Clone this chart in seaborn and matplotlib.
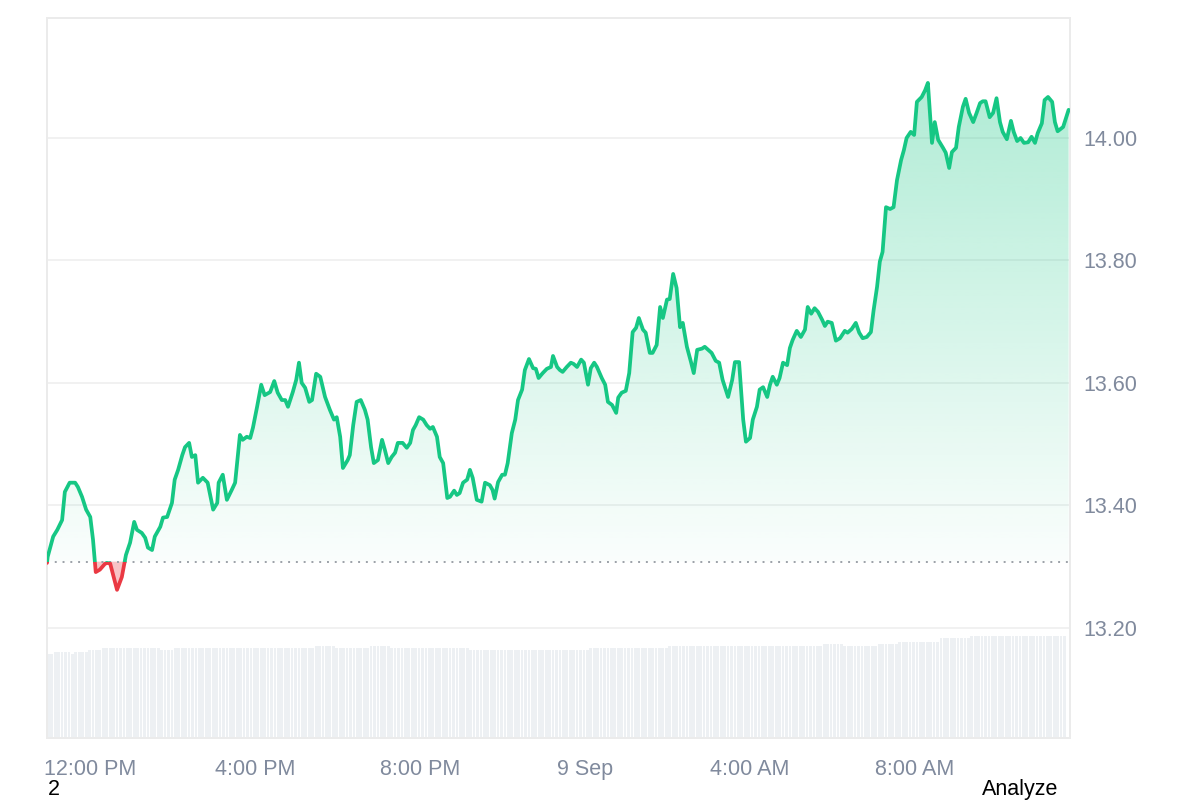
import numpy as np
import pandas as pd
import matplotlib
matplotlib.use('Agg')
import matplotlib.pyplot as plt
import matplotlib.dates as mdates
from matplotlib.colors import to_rgb
from matplotlib.patches import Rectangle
from matplotlib.path import Path
from matplotlib.ticker import FormatStrFormatter
from matplotlib.transforms import blended_transform_factory
import seaborn as sns

# price series (minutes after start, price)
start = pd.Timestamp('2024-09-08 10:57')
minutes = [0, 1, 9, 15, 22, 26, 33, 41, 45, 51, 57, 63, 67, 71, 77, 84, 87, 92, 102, 109,
           115, 121, 127, 131, 138, 143, 147, 153, 157, 165, 169, 175, 182, 186, 191, 197, 201, 207, 211, 216,
           220, 227, 234, 242, 248, 250, 256, 262, 269, 274, 281, 285, 291, 296, 300, 306, 312, 317, 325, 331,
           336, 342, 347, 351, 358, 363, 367, 371, 376, 382, 386, 392, 398, 405, 412, 418, 422, 427, 431, 438,
           441, 446, 451, 457, 463, 467, 472, 476, 482, 488, 492, 497, 502, 507, 511, 518, 524, 529, 533, 537,
           542, 548, 553, 558, 562, 568, 572, 577, 583, 587, 593, 597, 601, 606, 612, 616, 620, 626, 633, 638,
           645, 649, 652, 657, 663, 667, 671, 677, 682, 686, 692, 696, 702, 708, 712, 716, 722, 728, 734, 737,
           743, 747, 751, 757, 763, 767, 772, 778, 782, 788, 792, 797, 801, 808, 813, 817, 823, 829, 832, 837,
           843, 848, 853, 858, 862, 868, 872, 878, 882, 888, 893, 897, 903, 907, 912, 917, 922, 926, 932, 938,
           942, 947, 954, 958, 963, 968, 974, 979, 984, 992, 998, 1002, 1008, 1014, 1018, 1024, 1028, 1034, 1038, 1043,
           1049, 1053, 1057, 1063, 1067, 1072, 1078, 1082, 1086, 1092, 1098, 1104, 1108, 1113, 1118, 1123, 1129, 1133, 1137, 1143,
           1149, 1155, 1162, 1166, 1172, 1178, 1183, 1188, 1194, 1200, 1204, 1209, 1213, 1217, 1222, 1228, 1233, 1238, 1244, 1248,
           1252, 1258, 1263, 1267, 1274, 1279, 1283, 1289, 1293, 1298, 1305, 1309, 1314, 1318, 1324, 1328, 1334, 1338, 1343, 1349,
           1354, 1359, 1363, 1367, 1373, 1378, 1383, 1388, 1392, 1398, 1404, 1408, 1413, 1418, 1423, 1429, 1434, 1439, 1443, 1449,
           1453, 1458, 1464, 1468, 1472, 1480, 1488]
prices = [13.306, 13.316, 13.349, 13.360, 13.376, 13.422, 13.437, 13.437, 13.430, 13.414, 13.393, 13.381, 13.344, 13.291, 13.295, 13.304, 13.306, 13.305, 13.262, 13.283,
          13.319, 13.339, 13.373, 13.360, 13.355, 13.347, 13.331, 13.327, 13.349, 13.365, 13.380, 13.381, 13.404, 13.442, 13.458, 13.482, 13.495, 13.502, 13.479, 13.482,
          13.437, 13.445, 13.437, 13.393, 13.404, 13.437, 13.450, 13.409, 13.425, 13.437, 13.515, 13.507, 13.512, 13.510, 13.527, 13.561, 13.597, 13.580, 13.585, 13.603,
          13.584, 13.572, 13.572, 13.561, 13.585, 13.605, 13.633, 13.600, 13.592, 13.569, 13.572, 13.615, 13.610, 13.577, 13.556, 13.540, 13.544, 13.512, 13.461, 13.474,
          13.482, 13.531, 13.569, 13.572, 13.556, 13.540, 13.495, 13.469, 13.474, 13.507, 13.491, 13.469, 13.479, 13.486, 13.502, 13.502, 13.494, 13.502, 13.523, 13.531,
          13.544, 13.540, 13.531, 13.525, 13.528, 13.512, 13.479, 13.469, 13.412, 13.414, 13.424, 13.417, 13.420, 13.437, 13.442, 13.458, 13.445, 13.409, 13.406, 13.437,
          13.433, 13.425, 13.411, 13.438, 13.450, 13.450, 13.469, 13.518, 13.540, 13.572, 13.589, 13.621, 13.639, 13.624, 13.623, 13.608, 13.616, 13.623, 13.626, 13.644,
          13.626, 13.621, 13.618, 13.626, 13.633, 13.631, 13.626, 13.638, 13.633, 13.597, 13.624, 13.633, 13.626, 13.608, 13.597, 13.569, 13.564, 13.551, 13.576, 13.584,
          13.587, 13.616, 13.683, 13.690, 13.706, 13.687, 13.682, 13.649, 13.649, 13.662, 13.724, 13.706, 13.736, 13.737, 13.778, 13.755, 13.691, 13.698, 13.659, 13.634,
          13.616, 13.654, 13.656, 13.659, 13.654, 13.649, 13.636, 13.633, 13.605, 13.577, 13.605, 13.634, 13.634, 13.540, 13.504, 13.510, 13.540, 13.561, 13.589, 13.593,
          13.577, 13.597, 13.610, 13.597, 13.608, 13.633, 13.629, 13.657, 13.670, 13.685, 13.675, 13.687, 13.724, 13.713, 13.722, 13.716, 13.703, 13.693, 13.700, 13.698,
          13.669, 13.673, 13.685, 13.682, 13.688, 13.698, 13.682, 13.673, 13.675, 13.683, 13.719, 13.757, 13.798, 13.814, 13.887, 13.884, 13.887, 13.931, 13.964, 13.980,
          14.000, 14.010, 14.005, 14.059, 14.067, 14.078, 14.090, 13.992, 14.026, 13.997, 13.984, 13.976, 13.951, 13.977, 13.984, 14.018, 14.051, 14.064, 14.041, 14.026,
          14.041, 14.057, 14.060, 14.060, 14.034, 14.041, 14.065, 14.026, 14.010, 13.998, 14.028, 14.010, 13.995, 14.000, 13.992, 13.993, 14.002, 13.992, 14.008, 14.024,
          14.062, 14.067, 14.059, 14.026, 14.011, 14.018, 14.046]
base_price = 13.308

# 5-minute volume bars (millions), given as runs of equal height
vol_levels = [8.4, 8.6, 8.4, 8.6, 8.8, 9.0, 8.8, 9.0, 9.2, 9.0, 9.2, 9.0, 8.8, 9.0, 9.2, 9.4, 9.2, 9.4, 9.6, 10.0, 10.2]
vol_counts = [2, 5, 1, 4, 4, 17, 4, 41, 6, 10, 6, 23, 35, 23, 45, 6, 10, 6, 12, 9, 28]
volumes = np.repeat(vol_levels, vol_counts)

tick_times = ['2024-09-08 12:00', '2024-09-08 16:00', '2024-09-08 20:00',
              '2024-09-09 00:00', '2024-09-09 04:00', '2024-09-09 08:00']
tick_labels = ['12:00 PM', '4:00 PM', '8:00 PM', '9 Sep', '4:00 AM', '8:00 AM']
price_ticks = [13.2, 13.4, 13.6, 13.8, 14.0]

GREEN = '#16c784'
RED = '#ea3943'
MUTED = '#808a9d'
EDGE = '#ebebeb'

sns.set_style('white')
plt.rcParams['font.family'] = ['Liberation Sans', 'DejaVu Sans']

tx = mdates.date2num((start + pd.to_timedelta(minutes, unit='min')).to_pydatetime())
p = np.array(prices)
bar_x = mdates.date2num((start + pd.to_timedelta(np.arange(len(volumes)) * 5, unit='min')).to_pydatetime())
x0 = tx[0]
x1 = mdates.date2num((start + pd.Timedelta(minutes=1490)).to_pydatetime())
ytop = 14.196

fig = plt.figure(figsize=(12, 8), dpi=100)
ax_vol = fig.add_axes([47 / 1200, 62 / 800, 1023 / 1200, 720 / 800])
ax = ax_vol.twinx()

# volume
ax_vol.bar(bar_x, volumes, width=4.0 / 1440, align='edge', color='#edf0f3', linewidth=0)
ax_vol.set_ylim(0, 72)
ax_vol.set_yticks([])

# gradient fill above the opening price
fb = ax.fill_between(tx, p, base_price, color='none', lw=0)
clip = Path.make_compound_path(*fb.get_paths())
rgba = np.zeros((256, 1, 4))
rgba[..., :3] = to_rgb(GREEN)
rgba[:, 0, 3] = np.linspace(0.02, 0.38, 256)
im = ax.imshow(rgba, extent=[x0, tx[-1], base_price, ytop], origin='lower',
               aspect='auto', interpolation='bilinear', zorder=1)
im.set_clip_path(clip, transform=ax.transData)

# red fill below it
ax.fill_between(tx, p, base_price, where=p < base_price, interpolate=True,
                color=RED, alpha=0.3, lw=0, zorder=1)

ax.axhline(base_price, color='#9ca1a8', lw=1.4, ls=(0, (1, 3)), zorder=2)

# price line, green above / red below the opening price
blend = blended_transform_factory(ax.transAxes, ax.transData)
for color, rect in [(GREEN, Rectangle((0, base_price), 1, 5, transform=blend)),
                    (RED, Rectangle((0, base_price - 5), 1, 5, transform=blend))]:
    sns.lineplot(x=tx, y=p, ax=ax, color=color, lw=2.7, estimator=None, sort=False, zorder=3)
    line = ax.lines[-1]
    line.set_solid_joinstyle('round')
    line.set_solid_capstyle('round')
    line.set_clip_path(rect)

ax.set_xlim(x0, x1)
ax_vol.set_xlim(x0, x1)
ax.set_ylim(13.02, ytop)
ax.set_yticks(price_ticks)
ax.yaxis.set_major_formatter(FormatStrFormatter('%.2f'))
ax.grid(axis='y', color='#efefef', lw=1.2)
ax.set_axisbelow(True)

ax_vol.set_xticks(mdates.date2num(pd.to_datetime(tick_times).to_pydatetime()))
ax_vol.set_xticklabels(tick_labels)

ax.tick_params(axis='y', length=0, pad=9.5, labelsize=15.5, labelcolor=MUTED)
ax_vol.tick_params(axis='x', length=0, pad=15, labelsize=15.5, labelcolor=MUTED)
for a in (ax, ax_vol):
    for s in a.spines.values():
        s.set_color(EDGE)
        s.set_linewidth(1.2)
    a.set_xlabel('')
    a.set_ylabel('')

fig.text(48 / 1200, 0, '2', fontsize=15.5, color='black', va='bottom')
fig.text(982 / 1200, 0, 'Analyze', fontsize=15.5, color='black', va='bottom')

fig.savefig('out.png', dpi=100)
